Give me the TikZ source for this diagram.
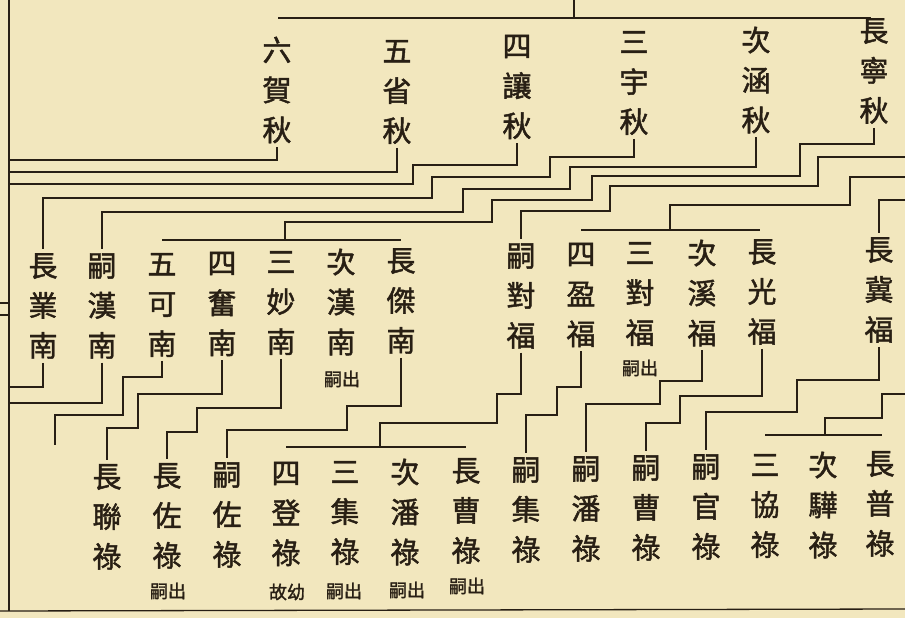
\documentclass[tikz,border=0pt]{standalone}
\usepackage{fontspec}
\newfontfamily\cjk[AutoFakeBold=1.6]{Noto Sans CJK TC}
\newcommand\nmfont{\cjk\bfseries\fontsize{29}{40}\selectfont}
\newcommand\ntfont{\cjk\bfseries\fontsize{18}{18}\selectfont}
\definecolor{paper}{RGB}{242,231,190}
\definecolor{ink}{RGB}{40,31,20}
\tikzset{
  person/.style={font=\nmfont, align=center, inner sep=0pt, outer sep=4pt, text=ink},
  remark/.style={font=\ntfont, inner sep=0pt, text=ink},
  link/.style={draw=ink, line width=1.6pt},
  frame/.style={draw=ink, line width=1.3pt}
}
\begin{document}
\begin{tikzpicture}[x=1pt,y=-1pt]
\fill[paper] (0,0) rectangle (905,618);
\useasboundingbox (0,0) rectangle (905,618);
% page frame
\draw[frame] (9,0) -- (9,611);
\draw[frame] (0,611) -- (905,609);
\draw[frame] (0,303) -- (9,303);
\draw[frame] (0,315) -- (9,315);
% generation 1
\node[person] (liuhe) at (277,90) {六\\賀\\秋};
\node[person] (wusheng) at (397,92) {五\\省\\秋};
\node[person] (sirang) at (517,87) {四\\讓\\秋};
\node[person] (sanyu) at (634,83) {三\\宇\\秋};
\node[person] (cihan) at (756,80) {次\\涵\\秋};
\node[person] (changning) at (874,71) {長\\寧\\秋};
% generation 2
\node[person] (yenan) at (43,306) {長\\業\\南};
\node[person] (sihannan) at (102,306) {嗣\\漢\\南};
\node[person] (kenan) at (162,305) {五\\可\\南};
\node[person] (fennan) at (222,304) {四\\奮\\南};
\node[person] (miaonan) at (281,303) {三\\妙\\南};
\node[person] (hannan) at (341,302) {次\\漢\\南};
\node[person] (jienan) at (401,301) {長\\傑\\南};
\node[person] (siduifu) at (521,296) {嗣\\對\\福};
\node[person] (yingfu) at (581,295) {四\\盈\\福};
\node[person] (duifu) at (640,294) {三\\對\\福};
\node[person] (xifu) at (702,293) {次\\溪\\福};
\node[person] (guangfu) at (762,292) {長\\光\\福};
\node[person] (jifu) at (879,290) {長\\冀\\福};
% generation 3
\node[person] (lianlu) at (107,517) {長\\聯\\祿};
\node[person] (zuolu) at (167,516) {長\\佐\\祿};
\node[person] (sizuolu) at (227,515) {嗣\\佐\\祿};
\node[person] (denglu) at (286,514) {四\\登\\祿};
\node[person] (jilu) at (345,513) {三\\集\\祿};
\node[person] (panlu) at (405,512) {次\\潘\\祿};
\node[person] (caolu) at (466,511) {長\\曹\\祿};
\node[person] (sijilu) at (526,510) {嗣\\集\\祿};
\node[person] (sipanlu) at (586,509) {嗣\\潘\\祿};
\node[person] (sicaolu) at (646,508) {嗣\\曹\\祿};
\node[person] (guanlu) at (706,507) {嗣\\官\\祿};
\node[person] (xielu) at (765,506) {三\\協\\祿};
\node[person] (hualu) at (823,505) {次\\驊\\祿};
\node[person] (pulu) at (880,504) {長\\普\\祿};
% remarks
\node[remark] (n1) at (342,379) {嗣出};
\node[remark] (n2) at (640,368) {嗣出};
\node[remark] (n3) at (168,591) {嗣出};
\node[remark] (n4) at (287,592) {故幼};
\node[remark] (n5) at (344,591) {嗣出};
\node[remark] (n6) at (407,590) {嗣出};
\node[remark] (n7) at (467,586) {嗣出};
% coordinates
\coordinate (ptop) at (574,0);
\coordinate (barL) at (278,18);
\coordinate (barR) at (871,18);
\coordinate (e1) at (9,160);
\coordinate (e2) at (9,172);
\coordinate (e3) at (9,184);
\coordinate (e4) at (9,387);
\coordinate (e5) at (9,403);
\coordinate (e6) at (55,445);
\coordinate (r1) at (905,157);
\coordinate (r2) at (905,177);
\coordinate (r3) at (905,200);
\coordinate (r4) at (905,394);
\coordinate (nanL) at (162,240);
\coordinate (nanR) at (401,240);
\coordinate (fuL) at (581,230);
\coordinate (fuR) at (760,230);
\coordinate (luL) at (286,447);
\coordinate (luR) at (466,447);
\coordinate (lu2L) at (765,435);
\coordinate (lu2R) at (882,435);
% top connectors
\draw[link] (ptop) -- (574,18);
\draw[link] (barL) -- (barR);
\draw[link] (liuhe.south) |- (e1);
\draw[link] (wusheng.south) |- (e2);
\draw[link] (sirang.south) |- (413,165) |- (e3);
\draw[link] (sanyu.south) |- (550,157) |- (432,177) |- (43,198) -- (yenan.north);
\draw[link] (cihan.south) |- (570,167) |- (463,189) |- (102,212) -- (sihannan.north);
\draw[link] (changning.south) |- (800,144) |- (592,176) |- (492,200) |- (285,222) -- (285,240);
\draw[link] (nanL) -- (nanR);
\draw[link] (r1) -| (818,186) -| (610,211) -| (siduifu.north);
\draw[link] (r2) -| (850,205) -| (670,230);
\draw[link] (fuL) -- (fuR);
\draw[link] (r3) -| (jifu.north);
% lower connectors
\draw[link] (yenan.south) |- (e4);
\draw[link] (sihannan.south) |- (e5);
\draw[link] (kenan.south) |- (123,377) |- (55,415) -- (e6);
\draw[link] (fennan.south) |- (138,394) |- (107,428) -- (lianlu.north);
\draw[link] (miaonan.south) |- (197,408) |- (167,432) -- (zuolu.north);
\draw[link] (jienan.south) |- (347,406) |- (227,430) -- (sizuolu.north);
\draw[link] (siduifu.south) |- (497,394) |- (380,423) -- (380,447);
\draw[link] (luL) -- (luR);
\draw[link] (yingfu.south) |- (557,387) |- (526,415) -- (sijilu.north);
\draw[link] (xifu.south) |- (660,381) |- (586,404) -- (sipanlu.north);
\draw[link] (guangfu.south) |- (680,396) |- (646,423) -- (sicaolu.north);
\draw[link] (jifu.south) |- (797,380) |- (706,412) -- (guanlu.north);
\draw[link] (r4) -| (882,418) -| (825,435);
\draw[link] (lu2L) -- (lu2R);
\end{tikzpicture}
\end{document}
